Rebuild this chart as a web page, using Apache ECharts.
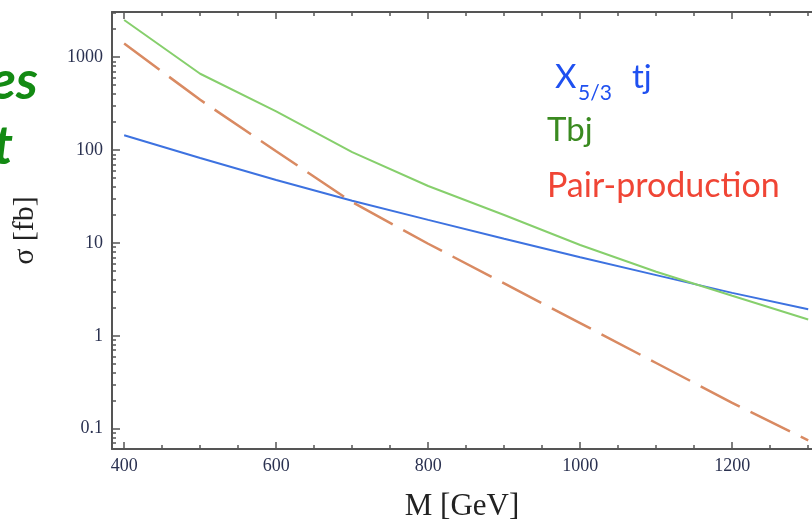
<!DOCTYPE html>
<html>
<head>
<meta charset="utf-8">
<script src="https://cdn.jsdelivr.net/npm/echarts@6/dist/echarts.min.js"></script>
<style>
html, body { margin: 0; padding: 0; background: #fff; }
#main { width: 812px; height: 520px; }
</style>
</head>
<body>
<div id="main"></div>
<script>
// masses (GeV) and cross sections (fb)
const masses = [400, 500, 600, 700, 800, 900, 1000, 1100, 1200, 1300];
const x53Tj = [144, 82, 47.6, 28.5, 17.7, 11.1, 7.0, 4.5, 2.9, 1.93];
const tbj = [2510, 662, 261, 95, 41, 20, 9.5, 4.9, 2.7, 1.5];
const pairProd = [1400, 347, 97, 27.5, 9.8, 3.66, 1.37, 0.51, 0.19, 0.075];

// tick positions
const xMajorTicks = [400, 600, 800, 1000, 1200];
const xMinorTicks = [450, 500, 550, 650, 700, 750, 850, 900, 950, 1050, 1100, 1150, 1250, 1300];
const yMajorTicks = [0.1, 1, 10, 100, 1000];
const yMinorTicks = [0.07, 0.08, 0.09, 0.2, 0.3, 0.4, 0.5, 0.6, 0.7, 0.8, 0.9,
  2, 3, 4, 5, 6, 7, 8, 9, 20, 30, 40, 50, 60, 70, 80, 90,
  200, 300, 400, 500, 600, 700, 800, 900, 2000, 3000];

const axisColor = '#555';
const labelColor = '#2a3150';
const serif = '"Liberation Serif", "DejaVu Serif", serif';
const plainNum = v => String(v);

function pairs(ys) {
  return masses.map((m, i) => [m, ys[i]]);
}

// x axis helper: major (with labels) or minor ticks, at top or bottom
function xAx(pos, major) {
  return {
    type: 'value',
    position: pos,
    min: 384,
    max: 1305,
    axisLine: { show: major, onZero: false, lineStyle: { color: axisColor, width: 2 } },
    axisTick: {
      inside: true,
      length: major ? 7 : 4,
      customValues: major ? xMajorTicks : xMinorTicks,
      lineStyle: { color: axisColor, width: 1.5 }
    },
    axisLabel: {
      show: major && pos === 'bottom',
      customValues: xMajorTicks,
      formatter: plainNum,
      color: labelColor,
      fontFamily: serif,
      fontSize: 18,
      margin: 8
    },
    splitLine: { show: false },
    name: major && pos === 'bottom' ? 'M [GeV]' : '',
    nameLocation: 'middle',
    nameGap: 42,
    nameTextStyle: { color: '#222', fontFamily: serif, fontSize: 31 }
  };
}

const chart = echarts.init(document.getElementById('main'));
chart.setOption({
  animation: false,
  backgroundColor: '#fff',
  grid: { left: 112, top: 12, right: 0, bottom: 71, containLabel: false, outerBoundsMode: 'none' },
  xAxis: [xAx('bottom', true), xAx('bottom', false), xAx('top', true), xAx('top', false)],
  yAxis: [
    {
      type: 'log',
      position: 'left',
      min: 0.0605,
      max: 3060,
      axisLine: { show: true, lineStyle: { color: axisColor, width: 2 } },
      axisTick: {
        inside: true,
        length: 8,
        customValues: yMajorTicks,
        lineStyle: { color: axisColor, width: 1.5 }
      },
      axisLabel: {
        customValues: yMajorTicks,
        formatter: plainNum,
        color: labelColor,
        fontFamily: serif,
        fontSize: 18,
        margin: 9
      },
      splitLine: { show: false },
      name: 'σ [fb]',
      nameLocation: 'middle',
      nameGap: 72,
      nameRotate: 90,
      nameTextStyle: { color: '#222', fontFamily: serif, fontSize: 30 }
    },
    {
      // minor ticks only; sits on the left edge via a negative offset
      type: 'log',
      position: 'right',
      offset: -700,
      min: 0.0605,
      max: 3060,
      axisLine: { show: false },
      axisTick: {
        show: true,
        inside: false,
        length: 4,
        customValues: yMinorTicks,
        lineStyle: { color: axisColor, width: 1.5 }
      },
      axisLabel: { show: false },
      splitLine: { show: false }
    }
  ],
  series: [
    {
      name: 'X5/3 tj',
      type: 'line',
      showSymbol: false,
      data: pairs(x53Tj),
      lineStyle: { color: '#3d72e0', width: 2 }
    },
    {
      name: 'Tbj',
      type: 'line',
      showSymbol: false,
      data: pairs(tbj),
      lineStyle: { color: '#86cf6c', width: 2 }
    },
    {
      name: 'Pair-production',
      type: 'line',
      showSymbol: false,
      data: pairs(pairProd),
      lineStyle: { color: '#d98a62', width: 2.5, type: [44, 12] }
    }
  ],
  graphic: [
    // slide text cut off at the left
    { type: 'text', x: 38, y: 82, style: { text: 'es', fill: '#138a13', font: 'italic bold 54px Lato, "Open Sans", sans-serif', textAlign: 'right', textVerticalAlign: 'middle' } },
    { type: 'text', x: 13, y: 147, style: { text: 't', fill: '#138a13', font: 'italic bold 54px Lato, "Open Sans", sans-serif', textAlign: 'right', textVerticalAlign: 'middle' } },
    // curve labels
    { type: 'text', x: 555, y: 77, style: { text: 'X', fill: '#1f50f0', font: '33px Lato, sans-serif', textAlign: 'left', textVerticalAlign: 'middle' } },
    { type: 'text', x: 578, y: 93, style: { text: '5/3', fill: '#1f50f0', font: '21px Lato, sans-serif', textAlign: 'left', textVerticalAlign: 'middle' } },
    { type: 'text', x: 632, y: 77, style: { text: 'tj', fill: '#1f50f0', font: '33px Lato, sans-serif', textAlign: 'left', textVerticalAlign: 'middle' } },
    { type: 'text', x: 547, y: 130, style: { text: 'Tbj', fill: '#3a8a20', font: '33px Lato, sans-serif', textAlign: 'left', textVerticalAlign: 'middle' } },
    { type: 'text', x: 547, y: 186, style: { text: 'Pair-production', fill: '#f04535', font: '34px Lato, sans-serif', textAlign: 'left', textVerticalAlign: 'middle' } }
  ]
});
</script>
</body>
</html>
